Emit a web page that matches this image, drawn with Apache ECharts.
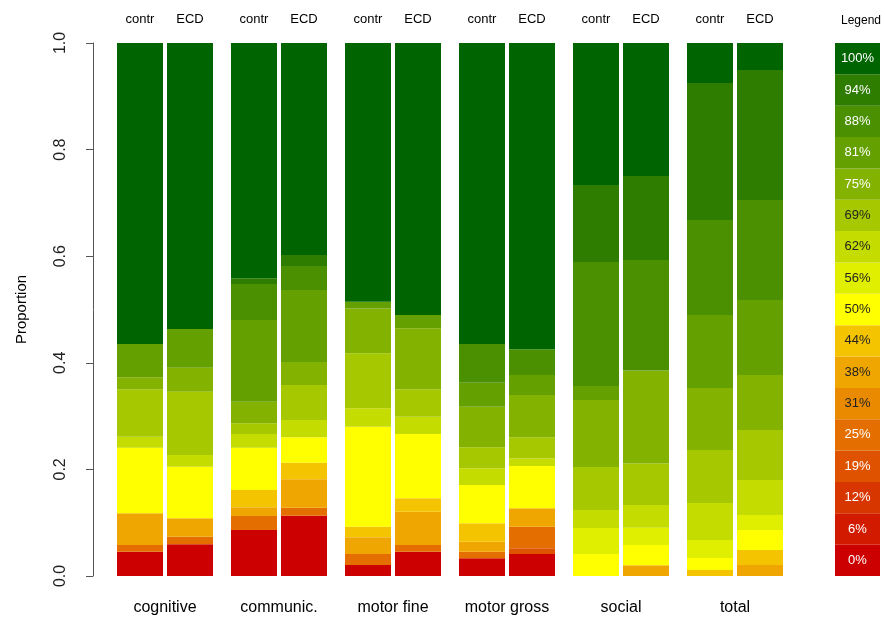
<!DOCTYPE html>
<html>
<head>
<meta charset="utf-8">
<script src="https://cdn.jsdelivr.net/npm/echarts@6/dist/echarts.min.js"></script>
<style>html,body{margin:0;padding:0;background:#fff}#c{width:885px;height:624px}</style>
</head>
<body>
<div id="c"></div>
<script>
// Categories and groups
const categories = ['cognitive', 'communic.', 'motor fine', 'motor gross', 'social', 'total'];
const groupNames = ['contr', 'ECD'];
const levelLabels = ['0%','6%','12%','19%','25%','31%','38%','44%','50%','56%','62%','69%','75%','81%','88%','94%','100%'];

// Proportion of each score level (0% .. 100%) per bar, bottom to top
const cognitiveContr  = [0.0456,0,0,0,0.0126,0,0.0595,0,0.1230,0,0.0206,0.0890,0.0225,0.0625,0,0,0.5647];
const cognitiveECD    = [0.0595,0,0,0,0.0143,0,0.0345,0,0.0968,0,0.0220,0.1188,0.0450,0.0726,0,0,0.5365];
const communicContr   = [0.0863,0,0,0,0.0263,0,0.0163,0.0325,0.0794,0,0.0257,0.0201,0.0405,0.1533,0.0675,0.0107,0.4414];
const communicECD     = [0.1131,0,0,0,0.0150,0,0.0533,0.0311,0.0477,0,0.0325,0.0657,0.0432,0.1351,0.0450,0.0206,0.3977];
const motorFineContr  = [0.0206,0,0,0,0.0206,0,0.0313,0.0199,0.1876,0,0.0345,0.1032,0.0844,0.0124,0,0,0.4855];
const motorFineECD    = [0.0456,0,0,0,0.0126,0,0.0625,0.0251,0.1206,0,0.0325,0.0514,0.1144,0.0250,0,0,0.5103];
const motorGrossContr = [0.0332,0,0,0,0.0124,0,0.0188,0.0345,0.0719,0,0.0313,0.0394,0.0762,0.0450,0.0726,0,0.5647];
const motorGrossECD   = [0.0413,0,0,0.0107,0.0405,0,0.0345,0,0.0794,0,0.0144,0.0394,0.0794,0.0375,0.0482,0,0.5747];
const socialContr     = [0,0,0,0,0,0,0,0,0.0413,0.0488,0.0338,0.0807,0.1257,0.0263,0.2326,0.1445,0.2663];
const socialECD       = [0,0,0,0,0,0,0.0201,0,0.0381,0.0323,0.0428,0.0779,0.1743,0,0.2075,0.1576,0.2494];
const totalContr      = [0,0,0,0,0,0,0,0.0113,0.0225,0.0338,0.0694,0.0994,0.1163,0.1370,0.1782,0.2571,0.0750];
const totalECD        = [0,0,0,0,0,0,0.0206,0.0281,0.0375,0.0281,0.0657,0.0938,0.1032,0.1407,0.1876,0.2440,0.0507];

const yTicks = [0, 0.2, 0.4, 0.6, 0.8, 1.0];

const palette = ['#CC0000','#D21A00','#D83600','#DE5200','#E46E00','#EA8A00','#F0A600','#F5C400','#FFFF00',
                 '#E0EE00','#C4DC00','#A6C800','#84B200','#64A000','#4A9000','#2E7C00','#006400'];
const legendTextColor = ['#fff','#fff','#fff','#fff','#fff','#222','#222','#222','#222','#222','#222','#222','#fff','#fff','#fff','#fff','#fff'];

const barsByGroup = [
  [cognitiveContr, communicContr, motorFineContr, motorGrossContr, socialContr, totalContr],
  [cognitiveECD, communicECD, motorFineECD, motorGrossECD, socialECD, totalECD]
];

const FONT = '"Liberation Sans", Arial, Helvetica, sans-serif';
const series = [];
groupNames.forEach((g, gi) => {
  levelLabels.forEach((lv, li) => {
    series.push({
      type: 'bar',
      name: g + ' ' + lv,
      stack: g,
      xAxisIndex: 0, yAxisIndex: 0,
      barWidth: 46,
      barGap: '8.7%',
      silent: true,
      data: barsByGroup[gi].map(b => b[li]),
      itemStyle: { color: palette[li] },
      label: li === 16 ? {
        show: true, position: 'top', distance: 17,
        formatter: g, color: '#000', fontSize: 13, fontFamily: FONT
      } : { show: false }
    });
  });
});

series.push({
  type: 'bar',
  xAxisIndex: 1, yAxisIndex: 1,
  barCategoryGap: '0%',
  silent: true,
  data: levelLabels.map((l, i) => ({
    value: 1,
    itemStyle: { color: palette[i] },
    label: { color: legendTextColor[i] }
  })),
  label: { show: true, position: 'inside', formatter: '{b}', fontSize: 13, fontFamily: FONT }
});

const chart = echarts.init(document.getElementById('c'));
chart.setOption({
  animation: false,
  backgroundColor: '#fff',
  title: {
    text: 'Legend', left: 836, top: 10,
    textStyle: { fontSize: 12, fontWeight: 'normal', color: '#000', fontFamily: FONT }
  },
  grid: [
    { left: 108, top: 43, width: 684, height: 533 },
    { left: 835, top: 43, width: 45, height: 533 }
  ],
  xAxis: [
    {
      gridIndex: 0, type: 'category', data: categories,
      axisLine: { show: false }, axisTick: { show: false },
      axisLabel: { fontSize: 16, color: '#000', margin: 24, fontFamily: FONT, interval: 0 }
    },
    { gridIndex: 1, type: 'value', min: 0, max: 1, show: false }
  ],
  yAxis: [
    {
      gridIndex: 0, type: 'value', min: 0, max: 1, interval: 0.2,
      offset: 15,
      name: 'Proportion', nameLocation: 'middle', nameGap: 64,
      nameTextStyle: { fontSize: 15, color: '#000', fontFamily: FONT },
      axisLine: { show: true, lineStyle: { color: '#555', width: 1 } },
      axisTick: { show: true, length: 7, lineStyle: { color: '#555' } },
      splitLine: { show: false },
      axisLabel: {
        rotate: 90, fontSize: 16, color: '#222', margin: 24, fontFamily: FONT,
        formatter: v => yTicks.includes(Math.round(v * 10) / 10) ? v.toFixed(1) : ''
      }
    },
    { gridIndex: 1, type: 'category', data: levelLabels, show: false }
  ],
  series: series
});
</script>
</body>
</html>
